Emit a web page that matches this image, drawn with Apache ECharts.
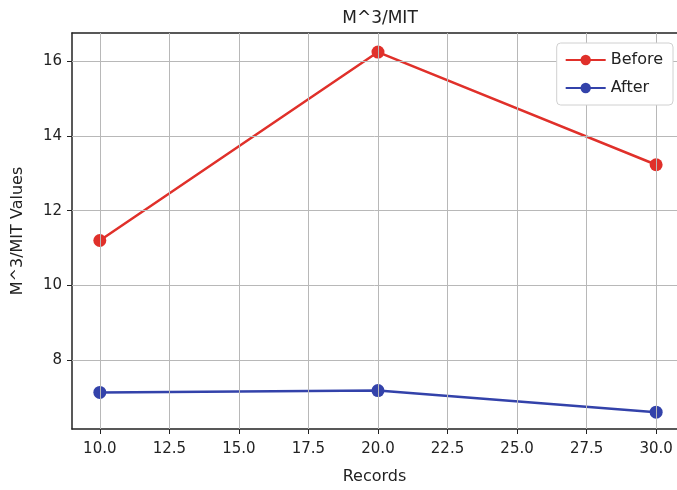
<!DOCTYPE html>
<html>
<head>
<meta charset="utf-8">
<script src="https://cdn.jsdelivr.net/npm/echarts@6/dist/echarts.min.js"></script>
<style>
  html, body { margin: 0; padding: 0; background: #fff; overflow: hidden; }
  #chart { width: 677px; height: 490px; }
</style>
</head>
<body>
<div id="chart"></div>
<script>
// 数据
const records = [10, 20, 30];
const before = [11.2, 16.25, 13.23];
const after = [7.13, 7.18, 6.6];
const xTicks = [10, 12.5, 15, 17.5, 20, 22.5, 25, 27.5, 30];
const yTicks = [8, 10, 12, 14, 16];

const font = 'DejaVu Sans';
const pairs = (ys) => records.map((x, i) => [x, ys[i]]);

let myChart = echarts.init(document.getElementById('chart'));
myChart.setOption({
  animation: false,
  title: {
    text: 'M^3/MIT',
    left: 375, textAlign: 'center', top: 5,
    textStyle: { fontFamily: font, fontSize: 17, fontWeight: 'normal', color: '#222' }
  },
  legend: {
    orient: 'vertical',
    right: 4, top: 43, z: 20, zlevel: 1,
    data: ['Before', 'After'],
    itemWidth: 40, itemHeight: 13, itemGap: 12,
    padding: [9, 10, 9, 8],
    backgroundColor: '#fff',
    borderColor: '#d0d0d0', borderWidth: 1, borderRadius: 4,
    textStyle: { fontFamily: font, fontSize: 16, color: '#222' }
  },
  grid: { left: 72, top: 33, right: 0, bottom: 59 },
  xAxis: [{
    type: 'value', min: 9, max: 30.75,
    name: 'Records', nameLocation: 'middle', nameGap: 40,
    nameTextStyle: { fontFamily: font, fontSize: 16, color: '#222' },
    axisLine: { onZero: false, lineStyle: { color: '#222', width: 1.5 } },
    axisTick: { customValues: xTicks, length: 5, lineStyle: { color: '#222' } },
    axisLabel: { customValues: xTicks, formatter: (v) => v.toFixed(1), fontFamily: font, fontSize: 15, color: '#222', margin: 13 },
    splitLine: { show: false }
  }, {
    type: 'value', position: 'top', min: 9, max: 30.75,
    axisLine: { onZero: false, lineStyle: { color: '#222', width: 1.5 } },
    axisTick: { show: false }, axisLabel: { show: false }, splitLine: { show: false }
  }],
  yAxis: {
    type: 'value', min: 6.15, max: 16.76,
    name: 'M^3/MIT Values', nameLocation: 'middle', nameGap: 46,
    nameTextStyle: { fontFamily: font, fontSize: 16, color: '#222' },
    axisLine: { show: true, onZero: false, lineStyle: { color: '#222', width: 1.5 } },
    axisTick: { show: true, customValues: yTicks, length: 5, lineStyle: { color: '#222' } },
    axisLabel: { customValues: yTicks, fontFamily: font, fontSize: 15, color: '#222', margin: 10 },
    splitLine: { show: false }
  },
  series: [
    {
      name: 'Before', type: 'line', data: pairs(before),
      symbol: 'circle', symbolSize: 13,
      itemStyle: { color: '#e0302a' }, lineStyle: { width: 2.5, color: '#e0302a' }, z: 3
    },
    {
      name: 'After', type: 'line', data: pairs(after),
      symbol: 'circle', symbolSize: 13,
      itemStyle: { color: '#3342aa' }, lineStyle: { width: 2.5, color: '#3342aa' }, z: 3
    },
    // 网格线
    {
      type: 'line', silent: true, data: [], z: 1,
      markLine: {
        symbol: 'none', silent: true, label: { show: false },
        lineStyle: { color: '#b8b8b8', width: 1, type: 'solid' },
        data: xTicks.map((v) => ({ xAxis: v })).concat(yTicks.map((v) => ({ yAxis: v })))
      }
    }
  ]
});
</script>
</body>
</html>
